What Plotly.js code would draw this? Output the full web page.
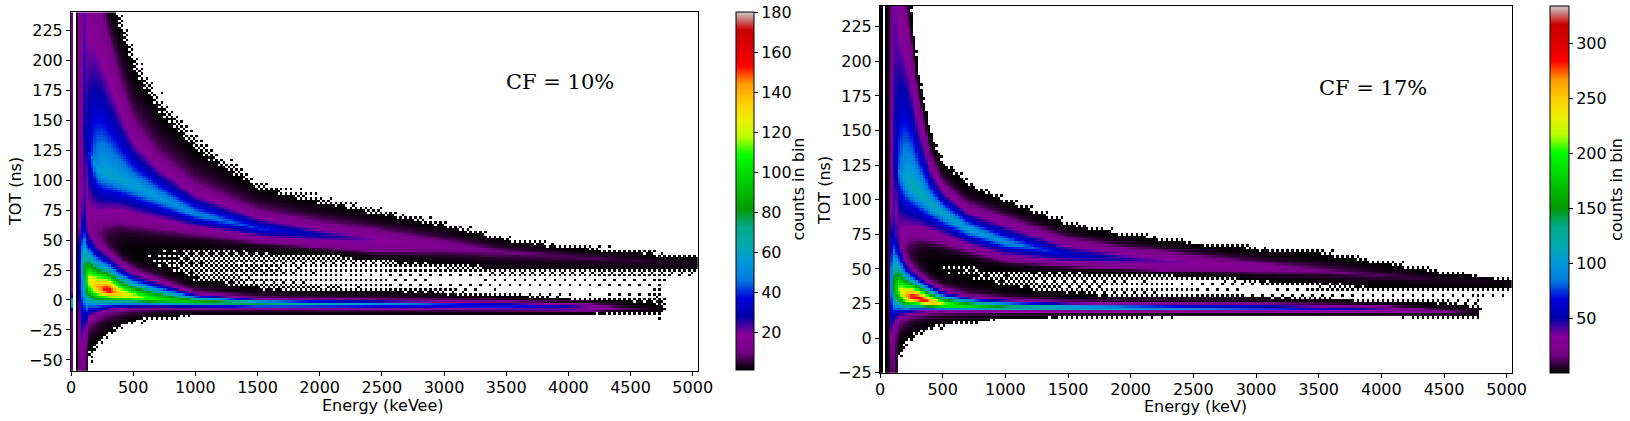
<!DOCTYPE html>
<html>
<head>
<meta charset="utf-8">
<script src="https://cdn.plot.ly/plotly-3.0.1.min.js"></script>
<style>html,body{margin:0;padding:0;background:#fff;}#chart{width:1630px;height:421px;}</style>
</head>
<body>
<div id="chart"></div>
<script>
// ---------------- data ----------------
// energy knots (keV) at which the band descriptions below were read
const E_KNOTS = [10,30,50,70,90,110,130,150,200,250,300,400,500,700,1000,1500,2000,2500,3000,3500,4000,4500,4800,5000];

// tick labels
const X_TICKS = [0,500,1000,1500,2000,2500,3000,3500,4000,4500,5000];
const Y_TICKS_CF10 = [-50,-25,0,25,50,75,100,125,150,175,200,225];
const Y_TICKS_CF17 = [-25,0,25,50,75,100,125,150,175,200,225];
const CB_TICKS_CF10 = [20,40,60,80,100,120,140,160,180];
const CB_TICKS_CF17 = [50,100,150,200,250,300];

// ---- CF = 10% panel: counts per bin; TOT (ns) of band ridge and of the 10-count / 1-count contours ----
const cf10_col      = [10,0,2,8,12,8,3,0,0,0,0,0,0,0,0,0,0,0,0,0,0,0,0,0];
const cf10_up_ridge = [250,250,250,250,200,140,130,125,113,109,106,101,96,86,72,60,54.5,50,45.5,40,36.5,33.5,32,31];
const cf10_up_peak  = [0,0,0,5,8,20,25,35,50,56,58,58,57,55,50,40,28,19,14,10,7,5,3.5,3];
const cf10_up_top10 = [300,300,300,300,300,300,300,290,260,240,220,182,150,122,97,75,65,58,53,45,39,36,34,33];
const cf10_up_top1  = [340,340,340,340,340,340,340,340,330,300,262,228,197,161,128,94,82,72,62,50,44,40,37,35.5];
const cf10_up_bot10 = [60,60,60,60,60,80,68,68,66,66,66,65,63,60,56,49,44.5,40,37,33,31,30,29,29];
const cf10_up_bot1  = [-10,-10,-10,-10,-10,40,45,46,47,48,50,50,50,48,47,43,40,35,32,28,27,26.5,27,27];
const cf10_lo_ridge = [-2,0,0,30,28,25,18,15,11,9,8,5,3,0.5,-1.5,-2.8,-3,-3.2,-3.8,-4.5,-5.5,-7,-7.5,-8];
const cf10_lo_peak  = [60,0,0,25,45,70,100,120,135,145,158,130,120,105,90,78,62,52,45,40,28,6,0,0];
const cf10_lo_top10 = [6,0,0,60,70,75,65,58,50,45,42,33,26,18,7,2,1,0.5,0,-1,-2.5,-4,-5,-6];
const cf10_lo_top1  = [14,0,0,120,120,110,85,70,60,55,50,42,35,26,14,8,7,6.5,5,3,1,-2,-4,-5];
const cf10_lo_bot10 = [-10,0,0,-20,-30,-30,-28,-20,-16,-13,-11,-9,-8,-7,-7,-7.5,-8,-8,-8,-8.5,-9,-9.5,-9.5,-9.5];
const cf10_lo_bot1  = [-16,0,0,-55,-60,-60,-55,-45,-37,-31,-27,-21,-17,-14,-12,-11.5,-11.5,-11.5,-11.5,-11.5,-11.5,-11,-10.5,-10.5];
const cf10_gap_hi   = [0,0,0,0,0,0,0,6,5,4.5,3,1.3,1.15,1.05,0.95,0.85,0.72,0.6,0.42,0.36,0.35,0.35,0.34,0.3];
const cf10_gap_lo   = [0,0,0,0,0,0,0,6,5,4.5,2.5,1.1,1.0,0.9,0.8,0.6,0.52,0.46,0.38,0.35,0.35,0.35,0.34,0.3];

// ---- CF = 17% panel: ridge and 20-count / 1-count contours ----
const cf17_col      = [2,0,2,4,12,15,6,0,0,0,0,0,0,0,0,0,0,0,0,0,0,0,0,0];
const cf17_up_ridge = [260,260,260,260,150,125,127,123,116,111,106,97,90,79,69,60,57,54.5,51,48.5,45,42,41,40];
const cf17_up_peak  = [0,0,0,0,15,35,55,80,105,115,117,115,112,105,95,62,45,35,28,21,12,6,4,3];
const cf17_up_top20 = [300,300,300,300,300,300,290,270,240,210,175,132,112,96,87,71,64,60,57,53,49,45,43,42];
const cf17_up_top1  = [340,340,340,340,340,340,340,340,280,235,195,148,126,111,99,82,74,68,64,61,54,47,44,42.5];
const cf17_up_bot20 = [90,90,90,90,90,85,80,73,73,73,73,71,69,63,56,52,50,48,45,43,41,40,39,38];
const cf17_up_bot1  = [40,40,40,40,40,55,55,52,55,58,60,60,58,55,50,48,47,45.5,42.5,40,37.5,37,37,37];
const cf17_lo_ridge = [20,0,0,40,40,37,35,34,30,29.5,28.5,26,24,23,22,21.8,21.6,21.5,21.5,21,20.5,19,18.5,18.5];
const cf17_lo_peak  = [0,0,0,8,80,140,175,205,250,285,300,270,220,185,155,130,110,95,80,65,42,20,0,0];
const cf17_lo_top20 = [0,0,0,100,90,85,78,70,58,52,48,41,36,31,28.5,26,25.5,25,25,24,23,21.5,20,20];
const cf17_lo_top1  = [0,0,0,200,150,120,100,85,70,62,58,50,45,40,35,31,29.5,29,28.5,28,26,24,22,22];
const cf17_lo_bot20 = [0,0,0,-10,0,8,10,12,14,16,17,18,18.5,18.5,18.5,18.5,18.5,18.5,18.5,18,18,17,17,17];
const cf17_lo_bot1  = [0,0,0,-30,-25,-22,-18,-12,-3,1,4,8,10,12,14,15,15.5,16,16,16,16,15,15,15];
const cf17_gap_hi   = [0,0,0,0,0,0,0,10,7,5,3,1.1,0.95,0.9,0.88,0.8,0.7,0.55,0.42,0.37,0.35,0.34,0.33,0.3];
const cf17_gap_lo   = [0,0,0,0,0,0,0,10,7,5,2.5,1.0,0.9,0.85,0.8,0.68,0.58,0.48,0.4,0.36,0.35,0.34,0.33,0.3];

// ---------------- histogram grid assembly ----------------
function at(arr, E) {
  const k = E_KNOTS;
  if (E <= k[0]) return arr[0];
  if (E >= k[k.length-1]) return arr[arr.length-1];
  for (let i = 0; i < k.length-1; i++) {
    if (E >= k[i] && E <= k[i+1]) {
      const f = (E - k[i]) / (k[i+1] - k[i]);
      return arr[i] + f * (arr[i+1] - arr[i]);
    }
  }
  return arr[arr.length-1];
}
function side(d, A, lv, dL, d1, p) {
  if (A <= 0) return 0;
  if (d1 < 0.5) d1 = 0.5;
  if (A > lv && dL > 0) {
    const s = Math.min(1, Math.log(A / lv) / Math.log(2));
    const dLe = Math.max(0.01, Math.min(dL * s, d1 * 0.95));
    const lnA = Math.log(A), lnL = Math.log(lv);
    if (d <= dLe) return Math.exp(lnA - (lnA - lnL) * Math.pow(d / dLe, p));
    const k = lnL / (d1 - dLe);
    return Math.exp(lnL - k * (d - dLe));
  }
  const k = Math.log(Math.max(A, 1.5)) / d1;
  return A * Math.exp(-k * d);
}
function band(T, r, A, lv, tL, t1, bL, b1, p) {
  const d = T - r;
  if (d >= 0) return side(d, A, lv, tL - r, t1 - r, p);
  return side(-d, A, lv, r - bL, r - b1, p);
}
// ordered (Bayer) dither for sparsely populated bins
const B4 = [[0,8,2,10],[12,4,14,6],[3,11,1,9],[15,7,13,5]];
const B2 = [[0,2],[3,1]];
function thr(i, j) {
  const v = 4 * B4[i % 4][j % 4] + B2[Math.floor(i / 4) % 2][Math.floor(j / 4) % 2];
  return 0.35 + (v + 0.5) / 64;
}
const P_UP = 1.2, P_LO = 1.6;
function build(P, lv, xs, ys) {
  const cols = xs.map(E => ({
    c: at(P.col, E),
    ur: at(P.ur, E), ua: at(P.ua, E), utL: at(P.utL, E), ut1: at(P.ut1, E), ubL: at(P.ubL, E), ub1: at(P.ub1, E),
    lr: at(P.lr, E), la: at(P.la, E), ltL: at(P.ltL, E), lt1: at(P.lt1, E), lbL: at(P.lbL, E), lb1: at(P.lb1, E),
    gh: at(P.gh, E), gl: at(P.gl, E)
  }));
  const z = [];
  for (let j = 0; j < ys.length; j++) {
    const T = ys[j], row = [];
    for (let i = 0; i < xs.length; i++) {
      const q = cols[i];
      let v = q.c;
      v += band(T, q.ur, q.ua, lv, q.utL, q.ut1, q.ubL, q.ub1, P_UP);
      v += band(T, q.lr, q.la, lv, q.ltL, q.lt1, q.lbL, q.lb1, P_LO);
      if (T > q.lr && T < q.ur) {
        const span = q.ub1 - q.lt1;
        let f = span > 0 ? (T - q.lt1) / span : 0.5;
        f = Math.max(0, Math.min(1, f));
        v += q.gl + (q.gh - q.gl) * f;
      }
      row.push(v >= thr(i, j) ? Math.max(v, 1) : null);
    }
    z.push(row);
  }
  return z;
}
const xs = []; for (let e = 10; e < 5040; e += 20) xs.push(e);
const ys10 = []; for (let t = -59; t < 240; t += 2) ys10.push(t);
const ys17 = []; for (let t = -25; t < 240; t += 2) ys17.push(t);

const z10 = build({col: cf10_col, ur: cf10_up_ridge, ua: cf10_up_peak, utL: cf10_up_top10, ut1: cf10_up_top1, ubL: cf10_up_bot10, ub1: cf10_up_bot1,
  lr: cf10_lo_ridge, la: cf10_lo_peak, ltL: cf10_lo_top10, lt1: cf10_lo_top1, lbL: cf10_lo_bot10, lb1: cf10_lo_bot1,
  gh: cf10_gap_hi, gl: cf10_gap_lo}, 10, xs, ys10);
const z17 = build({col: cf17_col, ur: cf17_up_ridge, ua: cf17_up_peak, utL: cf17_up_top20, ut1: cf17_up_top1, ubL: cf17_up_bot20, ub1: cf17_up_bot1,
  lr: cf17_lo_ridge, la: cf17_lo_peak, ltL: cf17_lo_top20, lt1: cf17_lo_top1, lbL: cf17_lo_bot20, lb1: cf17_lo_bot1,
  gh: cf17_gap_hi, gl: cf17_gap_lo}, 20, xs, ys17);

// nipy_spectral
const NIPY = [[0,'rgb(0,0,0)'],[0.05,'rgb(119,0,136)'],[0.10,'rgb(136,0,153)'],[0.15,'rgb(0,0,170)'],[0.20,'rgb(0,0,221)'],
  [0.25,'rgb(0,119,221)'],[0.30,'rgb(0,153,221)'],[0.35,'rgb(0,170,170)'],[0.40,'rgb(0,170,136)'],[0.45,'rgb(0,153,0)'],
  [0.50,'rgb(0,187,0)'],[0.55,'rgb(0,221,0)'],[0.60,'rgb(0,255,0)'],[0.65,'rgb(187,255,0)'],[0.70,'rgb(238,238,0)'],
  [0.75,'rgb(255,204,0)'],[0.80,'rgb(255,153,0)'],[0.85,'rgb(255,0,0)'],[0.90,'rgb(221,0,0)'],[0.95,'rgb(204,0,0)'],[1.0,'rgb(204,204,204)']];

const W = 1630, H = 421;
const FONT = {family: 'DejaVu Sans', size: 16, color: '#000'};
const SERIF = {family: 'DejaVu Serif', size: 21, color: '#000'};
const px = v => v / W, py = v => 1 - v / H;

const cbBase = {xanchor: 'left', yanchor: 'bottom', xpad: 0, ypad: 0, thicknessmode: 'pixels', lenmode: 'pixels',
  ticks: 'outside', ticklen: 4, tickwidth: 1, tickcolor: '#000', outlinewidth: 1, outlinecolor: '#000', tickfont: FONT};

const traces = [
  {type: 'heatmap', x: xs, y: ys10, z: z10, xaxis: 'x', yaxis: 'y', colorscale: NIPY, zmin: 1, zmax: 180, zsmooth: false,
   hoverinfo: 'skip', colorbar: Object.assign({}, cbBase, {x: px(736), y: 1 - 370/H, thickness: 18, len: 358, tickvals: CB_TICKS_CF10})},
  {type: 'heatmap', x: xs, y: ys17, z: z17, xaxis: 'x2', yaxis: 'y2', colorscale: NIPY, zmin: 1, zmax: 334, zsmooth: false,
   hoverinfo: 'skip', colorbar: Object.assign({}, cbBase, {x: px(1550), y: 1 - 372.7/H, thickness: 19, len: 366.7, tickvals: CB_TICKS_CF17})}
];

const axBase = {showgrid: false, zeroline: false, showline: true, mirror: true, linecolor: '#000', linewidth: 1,
  ticks: 'outside', ticklen: 4, tickwidth: 1, tickcolor: '#000', tickfont: FONT};

function note(text, x, y, font, angle) {
  return {text: text, x: px(x), y: py(y), xref: 'paper', yref: 'paper', showarrow: false, font: font,
          textangle: angle || 0, xanchor: 'center', yanchor: 'middle'};
}

const layout = {
  width: W, height: H, margin: {l: 0, r: 0, t: 0, b: 0}, paper_bgcolor: '#fff', plot_bgcolor: '#fff', showlegend: false,
  xaxis: Object.assign({}, axBase, {domain: [px(71), px(697.7)], range: [0, 5040], tickvals: X_TICKS, anchor: 'y', ticklabelstandoff: -2}),
  yaxis: Object.assign({}, axBase, {domain: [1 - 370.7/H, 1 - 12.3/H], range: [-59, 240], tickvals: Y_TICKS_CF10, anchor: 'x'}),
  xaxis2: Object.assign({}, axBase, {domain: [px(880), px(1511.7)], range: [0, 5040], tickvals: X_TICKS, anchor: 'y2', ticklabelstandoff: -2}),
  yaxis2: Object.assign({}, axBase, {domain: [1 - 372.7/H, 1 - 6/H], range: [-25, 240], tickvals: Y_TICKS_CF17, anchor: 'x2'}),
  annotations: [
    note('Energy (keVee)', 383.4, 405.5, FONT),
    note('TOT (ns)', 15.5, 191.5, FONT, -90),
    note('counts in bin', 798.5, 189, FONT, -90),
    note('CF = 10%', 560, 82, SERIF),
    note('Energy (keV)', 1195, 406.5, FONT),
    note('TOT (ns)', 825, 190, FONT, -90),
    note('counts in bin', 1617, 190, FONT, -90),
    note('CF = 17%', 1373, 88, SERIF)
  ]
};

Plotly.newPlot('chart', traces, layout, {displayModeBar: false, staticPlot: true});
</script>
</body>
</html>
